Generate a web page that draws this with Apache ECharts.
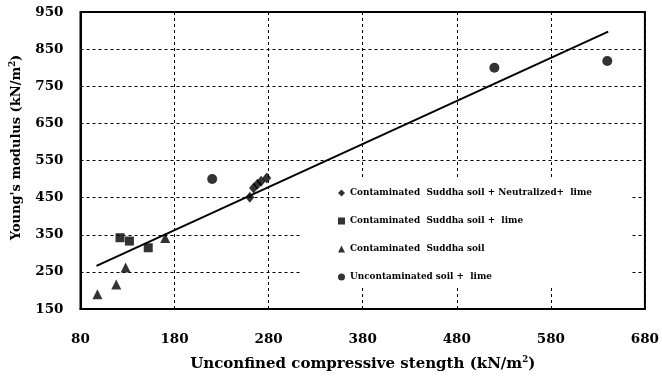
<!DOCTYPE html>
<html>
<head>
<meta charset="utf-8">
<script src="https://cdn.jsdelivr.net/npm/echarts@6/dist/echarts.min.js"></script>
<style>
  html, body { margin: 0; padding: 0; background: #fff; }
  #chart { width: 662px; height: 378px; }
</style>
</head>
<body>
<div id="chart"></div>
<script>
// Unconfined compressive strength (x) vs Young's modulus (y), kN/m²
const neutralizedLimeX = [260, 264, 268, 272, 278];
const neutralizedLimeY = [451, 476, 486, 494, 503];
const soilLimeX = [122, 132, 152];
const soilLimeY = [342, 333, 315];
const soilOnlyX = [98, 118, 128, 170];
const soilOnlyY = [190, 216, 262, 341];
const uncontaminatedX = [220, 520, 640];
const uncontaminatedY = [500, 800, 818];

const seriesNames = [
  'Contaminated  Suddha soil + Neutralized+  lime',
  'Contaminated  Suddha soil +  lime',
  'Contaminated  Suddha soil',
  'Uncontaminated soil +  lime'
];
const xTicks = [80, 180, 280, 380, 480, 580, 680];
const yTicks = [150, 250, 350, 450, 550, 650, 750, 850, 950];

const pairs = (xs, ys) => xs.map((x, i) => [x, ys[i]]);

// Least-squares trend line through every point
const allX = [].concat(neutralizedLimeX, soilLimeX, soilOnlyX, uncontaminatedX);
const allY = [].concat(neutralizedLimeY, soilLimeY, soilOnlyY, uncontaminatedY);
const n = allX.length;
const mx = allX.reduce((a, b) => a + b, 0) / n;
const my = allY.reduce((a, b) => a + b, 0) / n;
let sxy = 0, sxx = 0;
for (let i = 0; i < n; i++) {
  sxy += (allX[i] - mx) * (allY[i] - my);
  sxx += (allX[i] - mx) * (allX[i] - mx);
}
const slope = sxy / sxx;
const intercept = my - slope * mx;
const xLo = Math.min.apply(null, allX) - 1;
const xHi = Math.max.apply(null, allX) + 1;
const trend = [[xLo, intercept + slope * xLo], [xHi, intercept + slope * xHi]];

const serif = '"DejaVu Serif", "Liberation Serif", serif';
const labelStyle = { fontFamily: serif, fontWeight: 'bold', fontSize: 13.5, color: '#000' };
const supStyle = { fontFamily: serif, fontWeight: 'bold', fontSize: 8.5, color: '#000', lineHeight: 10, verticalAlign: 'top' };

const chart = echarts.init(document.getElementById('chart'));
chart.setOption({
  animation: false,
  backgroundColor: '#fff',
  grid: {
    left: 80.5, right: 15.5, top: 12, bottom: 67.3,
    show: true, borderColor: '#000', borderWidth: 2, backgroundColor: 'transparent'
  },
  legend: {
    orient: 'vertical',
    left: 300, top: 177,
    padding: [10, 38, 4, 38],
    backgroundColor: '#fff',
    itemWidth: 7, itemHeight: 7,
    itemGap: 16,
    textStyle: { fontFamily: serif, fontWeight: 'bold', fontSize: 8.9, color: '#000', lineHeight: 12 },
    data: [
      { name: seriesNames[0], icon: 'diamond' },
      { name: seriesNames[1], icon: 'rect' },
      { name: seriesNames[2], icon: 'triangle' },
      { name: seriesNames[3], icon: 'circle' }
    ]
  },
  xAxis: {
    type: 'value', min: xTicks[0], max: xTicks[xTicks.length - 1], interval: 100,
    axisLine: { show: true, lineStyle: { color: '#000', width: 2 } },
    axisTick: { show: false },
    axisLabel: Object.assign({ margin: 23 }, labelStyle),
    splitLine: { show: true, lineStyle: { color: '#000', type: [3, 3], width: 1 } },
    name: 'Unconfined compressive stength (kN/m{sup|2})',
    nameLocation: 'middle', nameGap: 46,
    nameTextStyle: {
      fontFamily: serif, fontWeight: 'bold', fontSize: 15, color: '#000', lineHeight: 18,
      rich: { sup: supStyle }
    }
  },
  yAxis: {
    type: 'value', min: yTicks[0], max: yTicks[yTicks.length - 1], interval: 100,
    axisLine: { show: true, lineStyle: { color: '#000', width: 2 } },
    axisTick: { show: false },
    axisLabel: Object.assign({ margin: 17 }, labelStyle),
    splitLine: { show: true, lineStyle: { color: '#000', type: [3, 3], width: 1 } },
    name: 'Young\'s modulus (kN/m{sup|2})',
    nameLocation: 'middle', nameGap: 40,
    nameTextStyle: {
      fontFamily: serif, fontWeight: 'bold', fontSize: 13, color: '#000', lineHeight: 16,
      padding: [0, 0, 0, 26],
      rich: { sup: supStyle }
    }
  },
  series: [
    {
      name: seriesNames[0], type: 'scatter', symbol: 'diamond', symbolSize: [9, 11],
      itemStyle: { color: '#000' }, data: pairs(neutralizedLimeX, neutralizedLimeY), z: 3
    },
    {
      name: seriesNames[1], type: 'scatter', symbol: 'rect', symbolSize: 9,
      itemStyle: { color: '#000' }, data: pairs(soilLimeX, soilLimeY), z: 3
    },
    {
      name: seriesNames[2], type: 'scatter', symbol: 'triangle', symbolSize: 10,
      itemStyle: { color: '#000' }, data: pairs(soilOnlyX, soilOnlyY), z: 3
    },
    {
      name: seriesNames[3], type: 'scatter', symbol: 'circle', symbolSize: 10,
      itemStyle: { color: '#000' }, data: pairs(uncontaminatedX, uncontaminatedY), z: 3
    },
    {
      name: 'trend', type: 'line', data: trend, showSymbol: false, symbol: 'none',
      lineStyle: { color: '#000', width: 2 }, silent: true, z: 2
    }
  ]
});
</script>
</body>
</html>
